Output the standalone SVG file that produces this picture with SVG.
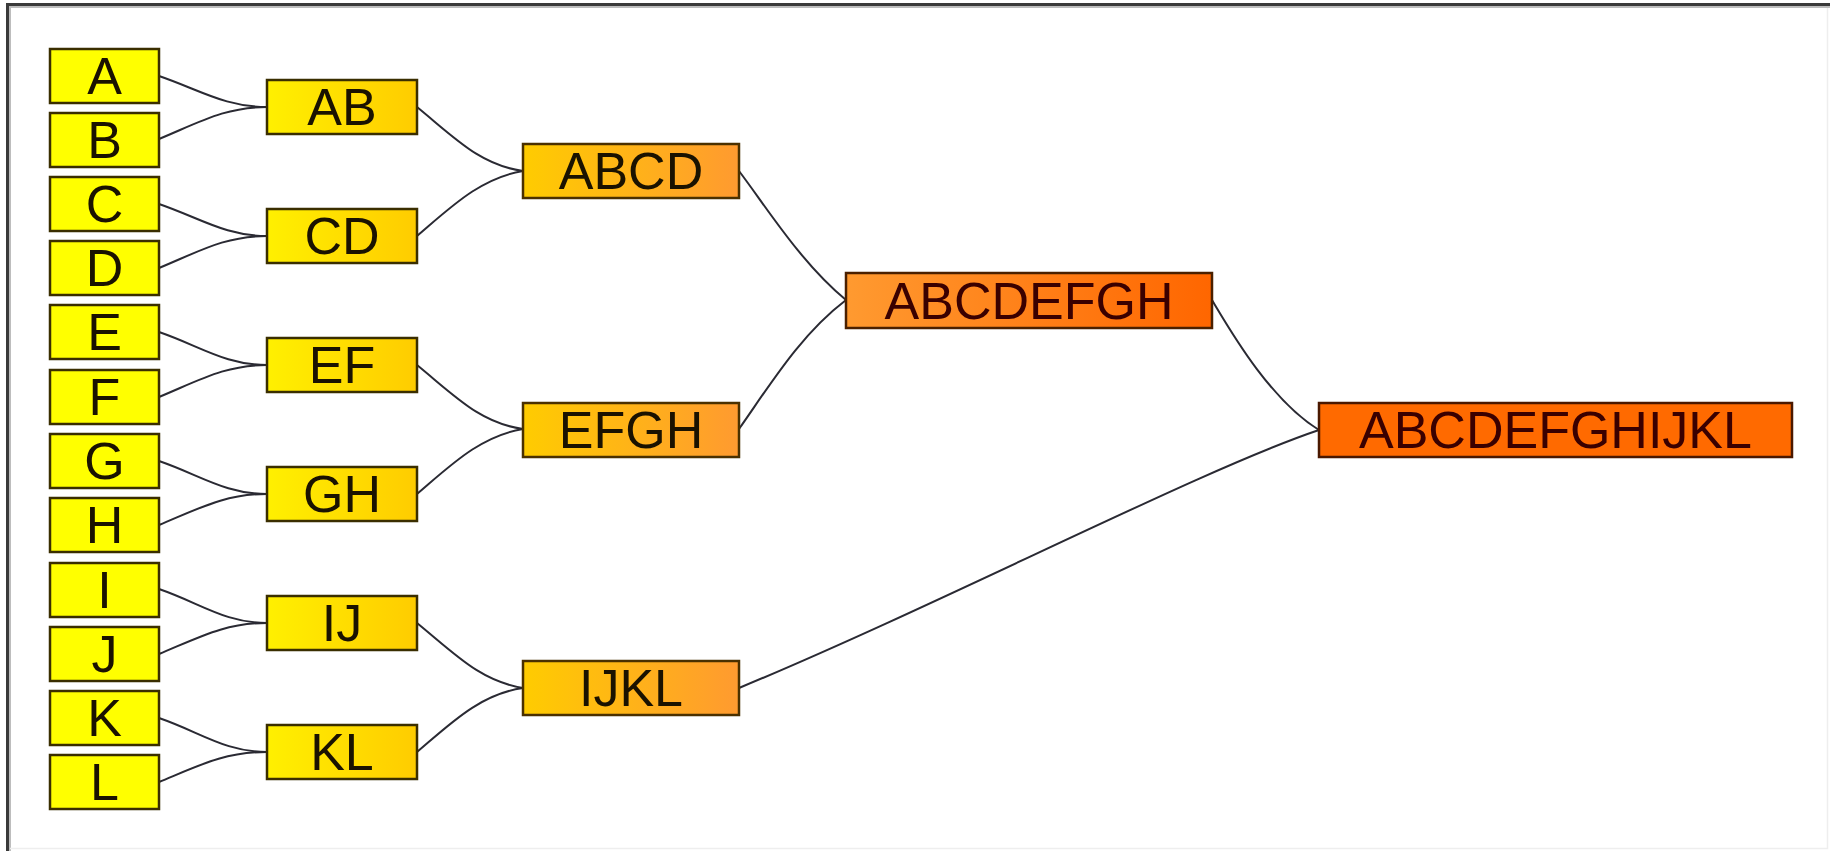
<svg xmlns="http://www.w3.org/2000/svg" width="1830" height="851" viewBox="0 0 1830 851">
<defs>
<linearGradient id="g2" x1="0" y1="0" x2="1" y2="0"><stop offset="0" stop-color="#FFF000"/><stop offset="1" stop-color="#FFCC00"/></linearGradient>
<linearGradient id="g3" x1="0" y1="0" x2="1" y2="0"><stop offset="0" stop-color="#FFCC00"/><stop offset="1" stop-color="#FF9A30"/></linearGradient>
<linearGradient id="g4" x1="0" y1="0" x2="1" y2="0"><stop offset="0" stop-color="#FF9A30"/><stop offset="1" stop-color="#FF6600"/></linearGradient>
</defs>
<style>
.n rect{stroke:#3a2e00;stroke-width:2.5}
.l1 rect{fill:#FFFF00}
.l2 rect{fill:url(#g2)}
.l3 rect{fill:url(#g3);stroke:#4a3000}
.l4 rect{fill:url(#g4);stroke:#4a2000}
.l5 rect{fill:#FF6A00;stroke:#4a1800}
.n text{font-family:"Liberation Sans",Arial,sans-serif;font-size:52px;text-anchor:middle;fill:#1a1200}
.l4 text,.l5 text{fill:#3a0000}
#edges path{fill:none;stroke:#2a2a33;stroke-width:2}
</style>
<rect x="0" y="0" width="1830" height="851" fill="#ffffff"/>
<path d="M7.5,851 V4.5 H1830" fill="none" stroke="#3a3a3a" stroke-width="3"/>
<path d="M10,851 V7 H1830" fill="none" stroke="#bdbdbd" stroke-width="2"/>
<path d="M1827.5,8 V848.5 H10" fill="none" stroke="#eeeeee" stroke-width="1.5"/>
<g id="edges">
<path d="M159,76 C200,90 225,107 267,107"/>
<path d="M159,139 C200,122 225,107 267,107"/>
<path d="M159,204 C200,218 225,236 267,236"/>
<path d="M159,268 C200,251 225,236 267,236"/>
<path d="M159,332 C200,346 225,365 267,365"/>
<path d="M159,397 C200,380 225,365 267,365"/>
<path d="M159,461 C200,475 225,494 267,494"/>
<path d="M159,525 C200,508 225,494 267,494"/>
<path d="M159,589 C200,603 225,623 267,623"/>
<path d="M159,654 C200,637 225,623 267,623"/>
<path d="M159,718 C200,732 225,752 267,752"/>
<path d="M159,782 C200,765 225,752 267,752"/>
<path d="M417,107 C455,138 480,165 523,171"/>
<path d="M417,236 C450,208 480,178 523,171"/>
<path d="M417,365 C455,396 480,423 523,429"/>
<path d="M417,494 C450,466 480,436 523,429"/>
<path d="M417,623 C455,654 480,681 523,688"/>
<path d="M417,752 C450,724 480,694 523,688"/>
<path d="M739,171 C765,205 800,262 846,300"/>
<path d="M739,429 C770,385 800,335 846,300"/>
<path d="M1212,300 C1230,330 1270,400 1319,430"/>
<path d="M739,688 C950,600 1200,470 1319,430"/>
</g>
<g id="A" class="n l1"><rect x="50" y="49" width="109" height="54"/><text x="104.5" y="94">A</text></g>
<g id="B" class="n l1"><rect x="50" y="113" width="109" height="54"/><text x="104.5" y="158">B</text></g>
<g id="C" class="n l1"><rect x="50" y="177" width="109" height="54"/><text x="104.5" y="222">C</text></g>
<g id="D" class="n l1"><rect x="50" y="241" width="109" height="54"/><text x="104.5" y="286">D</text></g>
<g id="E" class="n l1"><rect x="50" y="305" width="109" height="54"/><text x="104.5" y="350">E</text></g>
<g id="F" class="n l1"><rect x="50" y="370" width="109" height="54"/><text x="104.5" y="415">F</text></g>
<g id="G" class="n l1"><rect x="50" y="434" width="109" height="54"/><text x="104.5" y="479">G</text></g>
<g id="H" class="n l1"><rect x="50" y="498" width="109" height="54"/><text x="104.5" y="543">H</text></g>
<g id="I" class="n l1"><rect x="50" y="563" width="109" height="54"/><text x="104.5" y="608">I</text></g>
<g id="J" class="n l1"><rect x="50" y="627" width="109" height="54"/><text x="104.5" y="672">J</text></g>
<g id="K" class="n l1"><rect x="50" y="691" width="109" height="54"/><text x="104.5" y="736">K</text></g>
<g id="L" class="n l1"><rect x="50" y="755" width="109" height="54"/><text x="104.5" y="800">L</text></g>
<g id="AB" class="n l2"><rect x="267" y="80" width="150" height="54"/><text x="342" y="125">AB</text></g>
<g id="CD" class="n l2"><rect x="267" y="209" width="150" height="54"/><text x="342" y="254">CD</text></g>
<g id="EF" class="n l2"><rect x="267" y="338" width="150" height="54"/><text x="342" y="383">EF</text></g>
<g id="GH" class="n l2"><rect x="267" y="467" width="150" height="54"/><text x="342" y="512">GH</text></g>
<g id="IJ" class="n l2"><rect x="267" y="596" width="150" height="54"/><text x="342" y="641">IJ</text></g>
<g id="KL" class="n l2"><rect x="267" y="725" width="150" height="54"/><text x="342" y="770">KL</text></g>
<g id="ABCD" class="n l3"><rect x="523" y="144" width="216" height="54"/><text x="631" y="189">ABCD</text></g>
<g id="EFGH" class="n l3"><rect x="523" y="403" width="216" height="54"/><text x="631" y="448">EFGH</text></g>
<g id="IJKL" class="n l3"><rect x="523" y="661" width="216" height="54"/><text x="631" y="706">IJKL</text></g>
<g id="ABCDEFGH" class="n l4"><rect x="846" y="273" width="366" height="55"/><text x="1029" y="319">ABCDEFGH</text></g>
<g id="ABCDEFGHIJKL" class="n l5"><rect x="1319" y="403" width="473" height="54"/><text x="1555.5" y="448">ABCDEFGHIJKL</text></g>
</svg>
